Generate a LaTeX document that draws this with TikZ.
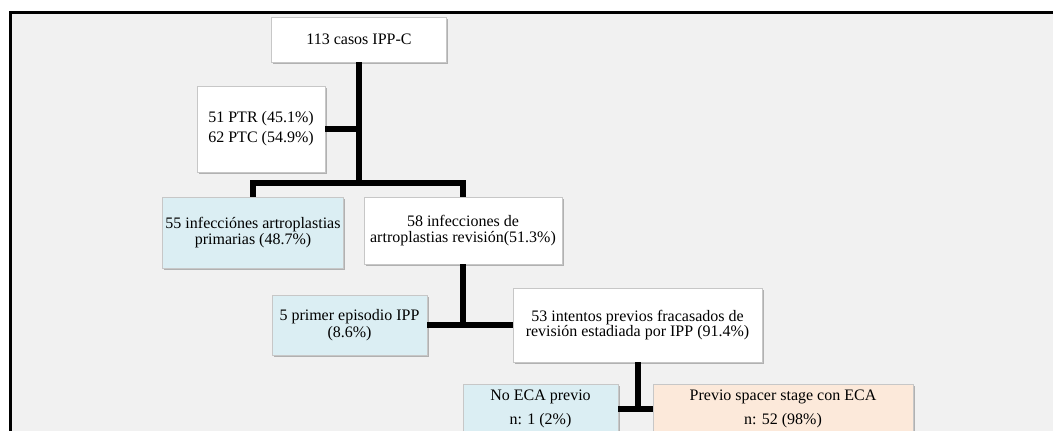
\documentclass[tikz,border=0pt]{standalone}
\usepackage{fontspec}
\setmainfont{Liberation Serif}
\usepackage{xcolor}
\usepackage{tikz}
\usetikzlibrary{shadows}
\definecolor{fondo}{HTML}{F1F1F1}
\definecolor{azul}{HTML}{DBEEF3}
\definecolor{salmon}{HTML}{FCE9DA}
\begin{document}
\begin{tikzpicture}[x=0.75pt,y=-0.75pt,
  caja/.style={draw=black!22,line width=0.5pt,fill=white,align=center,inner sep=2pt,
    font=\fontsize{12}{12}\selectfont,
    drop shadow={shadow xshift=1.2pt,shadow yshift=-1.8pt,fill=black!55,opacity=0.5}},
  cajaazul/.style={caja,fill=azul},
  cajasalmon/.style={caja,fill=salmon},
  enlace/.style={line width=4.5pt,black,line cap=butt,line join=miter}]
\useasboundingbox (0,0) rectangle (1053,430);
\clip (0,0) rectangle (1053,430);
\fill[white] (0,0) rectangle (1053,430);
\fill[fondo] (10,12) rectangle (1060,440);
\draw[line width=2.25pt] (10.5,440) -- (10.5,12.5) -- (1060,12.5);
\node[caja,minimum width=131.25pt,minimum height=33.75pt] (casos) at (359,39.5) {113 casos IPP-C};
\node[caja,minimum width=96pt,minimum height=64.5pt,font=\fontsize{12}{15}\selectfont] (ptr) at (261,129) {51 PTR (45.1\%)\\62 PTC (54.9\%)};
\node[cajaazul,minimum width=135pt,minimum height=53.25pt,font=\fontsize{12}{11.5}\selectfont] (prim) at (253,232.5) {55 infecciónes artroplastias\\primarias (48.7\%)};
\node[caja,minimum width=148.5pt,minimum height=50.25pt] (rev) at (463,230.5) {58 infecciones de\\artroplastias revisión(51.3\%)};
\node[cajaazul,minimum width=116.25pt,minimum height=45pt,font=\fontsize{12}{12.5}\selectfont] (primer) at (349.5,325) {5 primer episodio IPP\\(8.6\%)};
\node[caja,minimum width=186.75pt,minimum height=55.5pt,font=\fontsize{12}{11.5}\selectfont] (intentos) at (637.5,325) {53 intentos previos fracasados de\\revisión estadiada por IPP (91.4\%)};
\node[cajaazul,minimum width=116.25pt,minimum height=37.5pt,font=\fontsize{12}{17.5}\selectfont] (noeca) at (540.5,409) {No ECA previo\\n: 1 (2\%)};
\node[cajasalmon,minimum width=195pt,minimum height=37.5pt,font=\fontsize{12}{17.5}\selectfont] (previo) at (783,409) {Previo spacer stage con ECA\\n: 52 (98\%)};
\coordinate (bus) at (359,183);
\draw[enlace] (casos.south) -- (bus);
\draw[enlace] (ptr.east) -- (ptr.east -| bus);
\draw[enlace] (prim.north) |- (bus) -| (rev.north);
\draw[enlace] (rev.south) -- (rev.south |- primer.east);
\draw[enlace] (primer.east) -- (intentos.west);
\draw[enlace] (intentos.south) -- (intentos.south |- noeca.east);
\draw[enlace] (noeca.east) -- (previo.west);
\end{tikzpicture}
\end{document}
